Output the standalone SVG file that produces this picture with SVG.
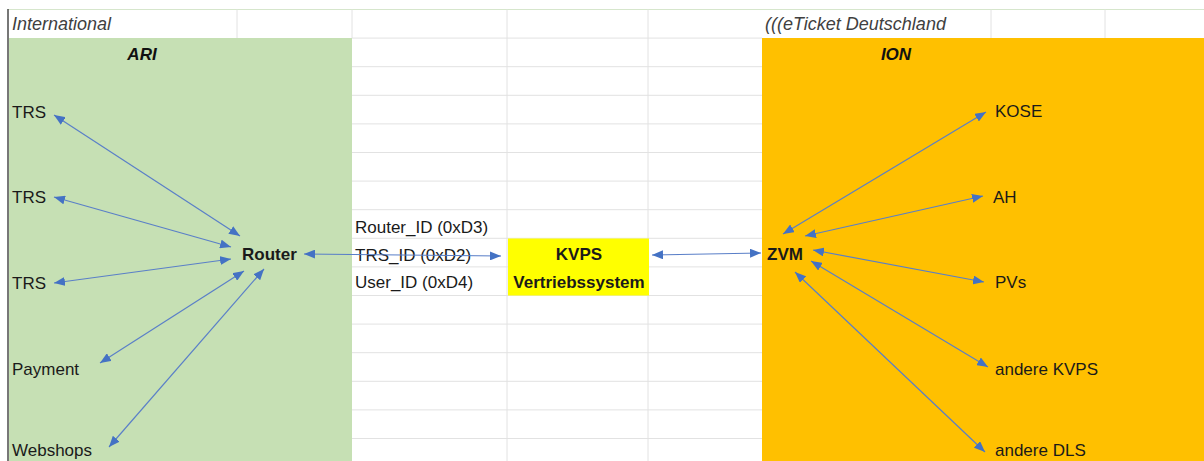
<svg xmlns="http://www.w3.org/2000/svg" width="1204" height="461" viewBox="0 0 1204 461">
<style>
.grid{stroke:#e2e2e2;stroke-width:1;fill:none}
.t{font-family:"Liberation Sans",Arial,sans-serif;font-size:17px;fill:#1a1a1a}
.b{font-weight:bold}
.h{font-style:italic;fill:#404040;font-size:18px}
.hi{font-style:italic;font-weight:bold;fill:#111}
.c{text-anchor:middle}
.con line{stroke:#5a7fc8;stroke-width:1.2;marker-start:url(#ah);marker-end:url(#ah)}
</style>
<defs>
<marker id="ah" markerUnits="userSpaceOnUse" markerWidth="11" markerHeight="9" refX="11" refY="4.5" orient="auto-start-reverse">
<path d="M0,0 L11,4.5 L0,9 z" fill="#4472c4"/>
</marker>
</defs>
<rect width="1204" height="461" fill="#ffffff"/>
<g id="grid" class="grid">
<line x1="8" y1="9.5" x2="1204" y2="9.5" stroke="#d6e6cc"/>
<line x1="237" y1="9.5" x2="237" y2="38"/>
<line x1="991" y1="9.5" x2="991" y2="38"/>
<line x1="1105" y1="9.5" x2="1105" y2="38"/>
<line x1="352" y1="9.5" x2="352" y2="38"/>
<line x1="507" y1="9.5" x2="507" y2="461"/>
<line x1="648" y1="9.5" x2="648" y2="461"/>
<path d="M352,38.1H762M352,66.7H762M352,95.3H762M352,123.9H762M352,152.5H762M352,181.1H762M352,209.7H762M352,238.3H762M352,266.9H762M352,295.5H762M352,324.1H762M352,352.7H762M352,381.3H762M352,409.9H762M352,438.5H762"/>
</g>
<g id="ari-area">
<rect x="9" y="38" width="343" height="423" fill="#c6e0b4"/>
<text class="t hi c" x="142" y="60">ARI</text>
</g>
<g id="ion-area">
<rect x="762" y="38" width="442" height="423" fill="#ffc000"/>
<text class="t hi c" x="896" y="60">ION</text>
</g>
<line x1="8" y1="9" x2="8" y2="461" stroke="#4a4a4a" stroke-width="1.5"/>
<g id="header">
<text class="t h" x="12" y="30">International</text>
<text class="t h" x="765" y="30">(((eTicket Deutschland</text>
</g>
<g id="kvps">
<rect x="508" y="238.5" width="141" height="57" fill="#ffff00"/>
<text class="t b c" x="579" y="260">KVPS</text>
<text class="t b c" x="579" y="288">Vertriebssystem</text>
</g>
<g id="ids">
<text class="t" x="355" y="233">Router_ID (0xD3)</text>
<text class="t" x="355" y="261">TRS_ID (0xD2)</text>
<text class="t" x="355" y="288">User_ID (0xD4)</text>
</g>
<g id="router"><text class="t b" x="242" y="260">Router</text></g>
<g id="zvm"><text class="t b" x="767" y="260">ZVM</text></g>
<g id="trs1"><text class="t" x="12" y="118">TRS</text></g>
<g id="trs2"><text class="t" x="12" y="203">TRS</text></g>
<g id="trs3"><text class="t" x="12" y="289">TRS</text></g>
<g id="payment"><text class="t" x="12" y="375">Payment</text></g>
<g id="webshops"><text class="t" x="12" y="456">Webshops</text></g>
<g id="kose"><text class="t" x="995" y="117">KOSE</text></g>
<g id="ah-node"><text class="t" x="993" y="203">AH</text></g>
<g id="pvs"><text class="t" x="995" y="288">PVs</text></g>
<g id="andere-kvps"><text class="t" x="995" y="375">andere KVPS</text></g>
<g id="andere-dls"><text class="t" x="995" y="456">andere DLS</text></g>
<g id="connectors" class="con">
<line x1="240" y1="236" x2="54" y2="115"/>
<line x1="231" y1="247" x2="54" y2="197"/>
<line x1="231" y1="259" x2="54" y2="283"/>
<line x1="244" y1="271" x2="100" y2="363"/>
<line x1="264" y1="269" x2="109" y2="447"/>
<line x1="304" y1="254" x2="501" y2="256"/>
<line x1="652" y1="255" x2="761" y2="253"/>
<line x1="783" y1="234" x2="986" y2="112"/>
<line x1="805" y1="236" x2="983" y2="196"/>
<line x1="813" y1="250" x2="984" y2="282"/>
<line x1="811" y1="261" x2="988" y2="367"/>
<line x1="795" y1="272" x2="985" y2="452"/>
</g>
</svg>
